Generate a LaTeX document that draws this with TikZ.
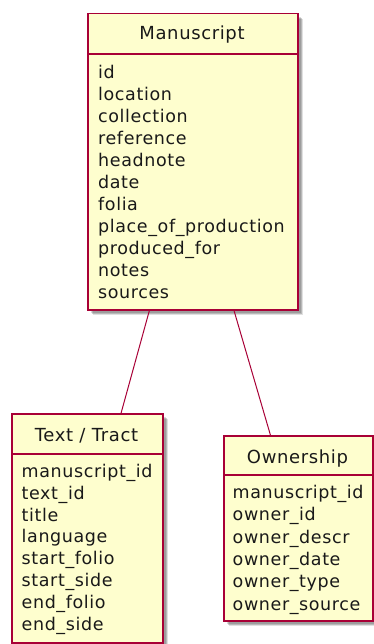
\documentclass[tikz,border=0pt]{standalone}
\usepackage{fontspec}
\setmainfont{DejaVu Sans}[LetterSpace=3.5]
\usetikzlibrary{shadows,calc}
\definecolor{umlred}{HTML}{A80036}
\definecolor{umlfill}{HTML}{FEFECE}
\begin{document}
\begin{tikzpicture}[x=1pt,y=-1pt,
  umlbox/.style={draw=umlred, fill=umlfill, line width=1.5pt, rectangle, anchor=north west, inner sep=0pt,
    drop shadow={shadow xshift=5pt, shadow yshift=-5pt, fill=black, opacity=0.12},
    drop shadow={shadow xshift=4pt, shadow yshift=-4pt, fill=black, opacity=0.18},
    drop shadow={shadow xshift=3pt, shadow yshift=-3pt, fill=black, opacity=0.15}},
  umltitle/.style={anchor=base, inner sep=0pt, font=\fontsize{18}{22}\selectfont, text=black!90},
  umlfield/.style={anchor=base west, inner sep=0pt, font=\fontsize{17.5}{22}\selectfont, text=black!90},
  umlsep/.style={draw=umlred, line width=1.5pt},
  umllink/.style={draw=umlred, line width=1pt}]
\useasboundingbox (0,0) rectangle (373,644);
% boxes
\node[umlbox, minimum width=210pt, minimum height=296pt] (ms) at (87,13) {};
\node[umlbox, minimum width=151pt, minimum height=229pt] (tt) at (11,413) {};
\node[umlbox, minimum width=149pt, minimum height=185pt] (ow) at (223,435) {};
% separators
\draw[umlsep] ([yshift=-41pt]ms.north west) -- ([yshift=-41pt]ms.north east);
\draw[umlsep] ([yshift=-41pt]tt.north west) -- ([yshift=-41pt]tt.north east);
\draw[umlsep] ([yshift=-40pt]ow.north west) -- ([yshift=-40pt]ow.north east);
% titles
\node[umltitle] (mst) at (192,40) {Manuscript};
\node[umltitle] (ttt) at (86.5,441.5) {Text / Tract};
\node[umltitle] (owt) at (297.5,463.5) {Ownership};
% fields
\foreach \t [count=\i from 0] in {id,location,collection,reference,headnote,date,folia,place\_of\_production,produced\_for,notes,sources}
  \node[umlfield] (ms-f\i) at (98,78.5+22*\i) {\t};
\foreach \t [count=\i from 0] in {manuscript\_id,text\_id,title,language,start\_folio,start\_side,end\_folio,end\_side}
  \node[umlfield] (tt-f\i) at (21.5,477.5+21.8*\i) {\t};
\foreach \t [count=\i from 0] in {manuscript\_id,owner\_id,owner\_descr,owner\_date,owner\_type,owner\_source}
  \node[umlfield] (ow-f\i) at (232.5,498.5+22.3*\i) {\t};
% links
\draw[umllink] ($(ms.south west)!0.295!(ms.south east)$) -- ($(tt.north west)!0.722!(tt.north east)$);
\draw[umllink] ($(ms.south west)!0.695!(ms.south east)$) -- ($(ow.north west)!0.315!(ow.north east)$);
\end{tikzpicture}
\end{document}
